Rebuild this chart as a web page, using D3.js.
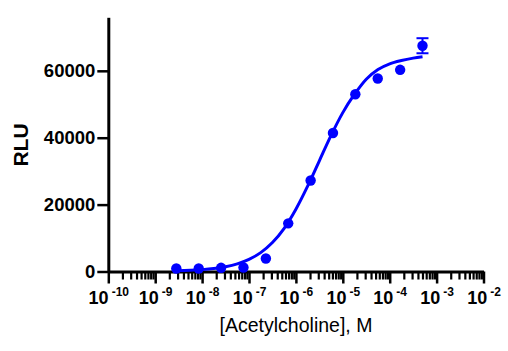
<!DOCTYPE html>
<html>
<head>
<meta charset="utf-8">
<script src="https://cdn.jsdelivr.net/npm/d3@7"></script>
<style>
  body { margin: 0; background: #fff; }
  svg text { font-family: "Liberation Sans", Arial, sans-serif; }
</style>
</head>
<body>
<div id="chart"></div>
<script>
/* DATA */
// acetylcholine concentrations (M), 3-fold dilutions
const conc = [2.82e-9, 8.47e-9, 2.54e-8, 7.62e-8, 2.29e-7, 6.86e-7, 2.06e-6, 6.17e-6, 1.85e-5, 5.56e-5, 1.67e-4, 5.0e-4];
const rlu = [900, 900, 1100, 1200, 3900, 14400, 27200, 41400, 53000, 57700, 60300, 67500];
// only the last error bar is bigger than the symbol
const sem = [0, 0, 0, 0, 0, 0, 0, 0, 0, 0, 0, 2250];

// fitted curve (log10 M, RLU)
const curveLogX = [-8.55, -8.25, -8.0, -7.75, -7.5, -7.25, -7.0, -6.75, -6.5, -6.25, -6.0, -5.75, -5.5, -5.25, -5.0, -4.75, -4.5, -4.25, -4.0, -3.75, -3.5, -3.3];
const curveY = [200, 350, 560, 900, 1440, 2300, 3630, 5650, 8650, 12900, 18600, 25500, 33100, 40700, 47500, 53000, 57500, 60400, 62100, 63100, 63800, 64200];

const yTicks = [0, 20000, 40000, 60000];
const decadeExps = [-10, -9, -8, -7, -6, -5, -4, -3, -2];

/* LAYOUT */
const width = 508, height = 351;
const color = "#0000ff";

const svg = d3.select("#chart").append("svg")
  .attr("width", width)
  .attr("height", height);

const x = d3.scaleLog()
  .domain([1e-10, 1e-2])
  .range([108.3, 483.5]);

const y = d3.scaleLinear()
  .domain([0, 76000])
  .range([271.5, 17.3]);

// minor ticks 2..9 in each decade
const minorTicks = [];
decadeExps.slice(0, -1).forEach(e => {
  for (let m = 2; m <= 9; m++) minorTicks.push(m * Math.pow(10, e));
});
const majorTicks = decadeExps.map(e => Math.pow(10, e));

// x axis - minor
svg.append("g")
  .attr("class", "x-minor")
  .attr("transform", `translate(0,${y(0)})`)
  .call(d3.axisBottom(x).tickValues(minorTicks).tickSize(8).tickSizeOuter(0).tickFormat(""))
  .call(g => g.select(".domain").attr("stroke-width", 3))
  .call(g => g.selectAll(".tick line").attr("stroke-width", 2.2));

// x axis - major
const xMajor = svg.append("g")
  .attr("class", "x-major")
  .attr("transform", `translate(0,${y(0)})`)
  .call(d3.axisBottom(x).tickValues(majorTicks).tickSize(12).tickSizeOuter(0).tickFormat(""))
  .call(g => g.select(".domain").remove())
  .call(g => g.selectAll(".tick line").attr("stroke-width", 2.5));

xMajor.selectAll(".tick text").remove();
xMajor.selectAll(".tick").each(function(d) {
  const t = d3.select(this).append("text")
    .attr("y", 32)
    .attr("text-anchor", "middle")
    .attr("fill", "#000")
    .attr("font-weight", "bold")
    .attr("font-size", 18);
  t.append("tspan").text("10");
  t.append("tspan")
    .attr("dx", 3)
    .attr("dy", -7.5)
    .attr("font-size", 12)
    .text(String(Math.round(Math.log10(d))));
});

// y axis
svg.append("g")
  .attr("class", "y-axis")
  .attr("transform", `translate(${x(1e-10)},0)`)
  .call(d3.axisLeft(y).tickValues(yTicks).tickSize(11).tickSizeOuter(0).tickPadding(2).tickFormat(d3.format("d")))
  .call(g => g.select(".domain").attr("stroke-width", 3))
  .call(g => g.selectAll(".tick line").attr("stroke-width", 2.5))
  .call(g => g.selectAll(".tick text")
    .attr("font-size", 18.5)
    .attr("font-weight", "bold")
    .attr("fill", "#000"));

// axis titles
svg.append("text")
  .attr("transform", `translate(27.5,145) rotate(-90)`)
  .attr("text-anchor", "middle")
  .attr("font-weight", "bold")
  .attr("font-size", 21)
  .text("RLU");

svg.append("text")
  .attr("x", 296)
  .attr("y", 332)
  .attr("text-anchor", "middle")
  .attr("font-size", 19.5)
  .text("[Acetylcholine], M");

// fitted curve
const curveData = curveLogX.map((lx, i) => ({ c: Math.pow(10, lx), v: curveY[i] }));
const line = d3.line()
  .x(d => x(d.c))
  .y(d => y(d.v))
  .curve(d3.curveMonotoneX);

svg.append("path")
  .datum(curveData)
  .attr("fill", "none")
  .attr("stroke", color)
  .attr("stroke-width", 3)
  .attr("d", line);

// points with error bars
const pts = conc.map((c, i) => ({ c, v: rlu[i], e: sem[i] }));
const withErr = pts.filter(d => d.e > 0);

const eb = svg.append("g").attr("stroke", color).attr("stroke-width", 2);
eb.selectAll("line.bar")
  .data(withErr)
  .join("line")
  .attr("class", "bar")
  .attr("x1", d => x(d.c)).attr("x2", d => x(d.c))
  .attr("y1", d => y(d.v - d.e)).attr("y2", d => y(d.v + d.e));
eb.selectAll("line.capTop")
  .data(withErr)
  .join("line")
  .attr("class", "capTop")
  .attr("x1", d => x(d.c) - 6).attr("x2", d => x(d.c) + 6)
  .attr("y1", d => y(d.v + d.e)).attr("y2", d => y(d.v + d.e));
eb.selectAll("line.capBot")
  .data(withErr)
  .join("line")
  .attr("class", "capBot")
  .attr("x1", d => x(d.c) - 6).attr("x2", d => x(d.c) + 6)
  .attr("y1", d => y(d.v - d.e)).attr("y2", d => y(d.v - d.e));

svg.selectAll("circle.pt")
  .data(pts)
  .join("circle")
  .attr("class", "pt")
  .attr("cx", d => x(d.c))
  .attr("cy", d => y(d.v))
  .attr("r", 5.2)
  .attr("fill", color);
</script>
</body>
</html>
